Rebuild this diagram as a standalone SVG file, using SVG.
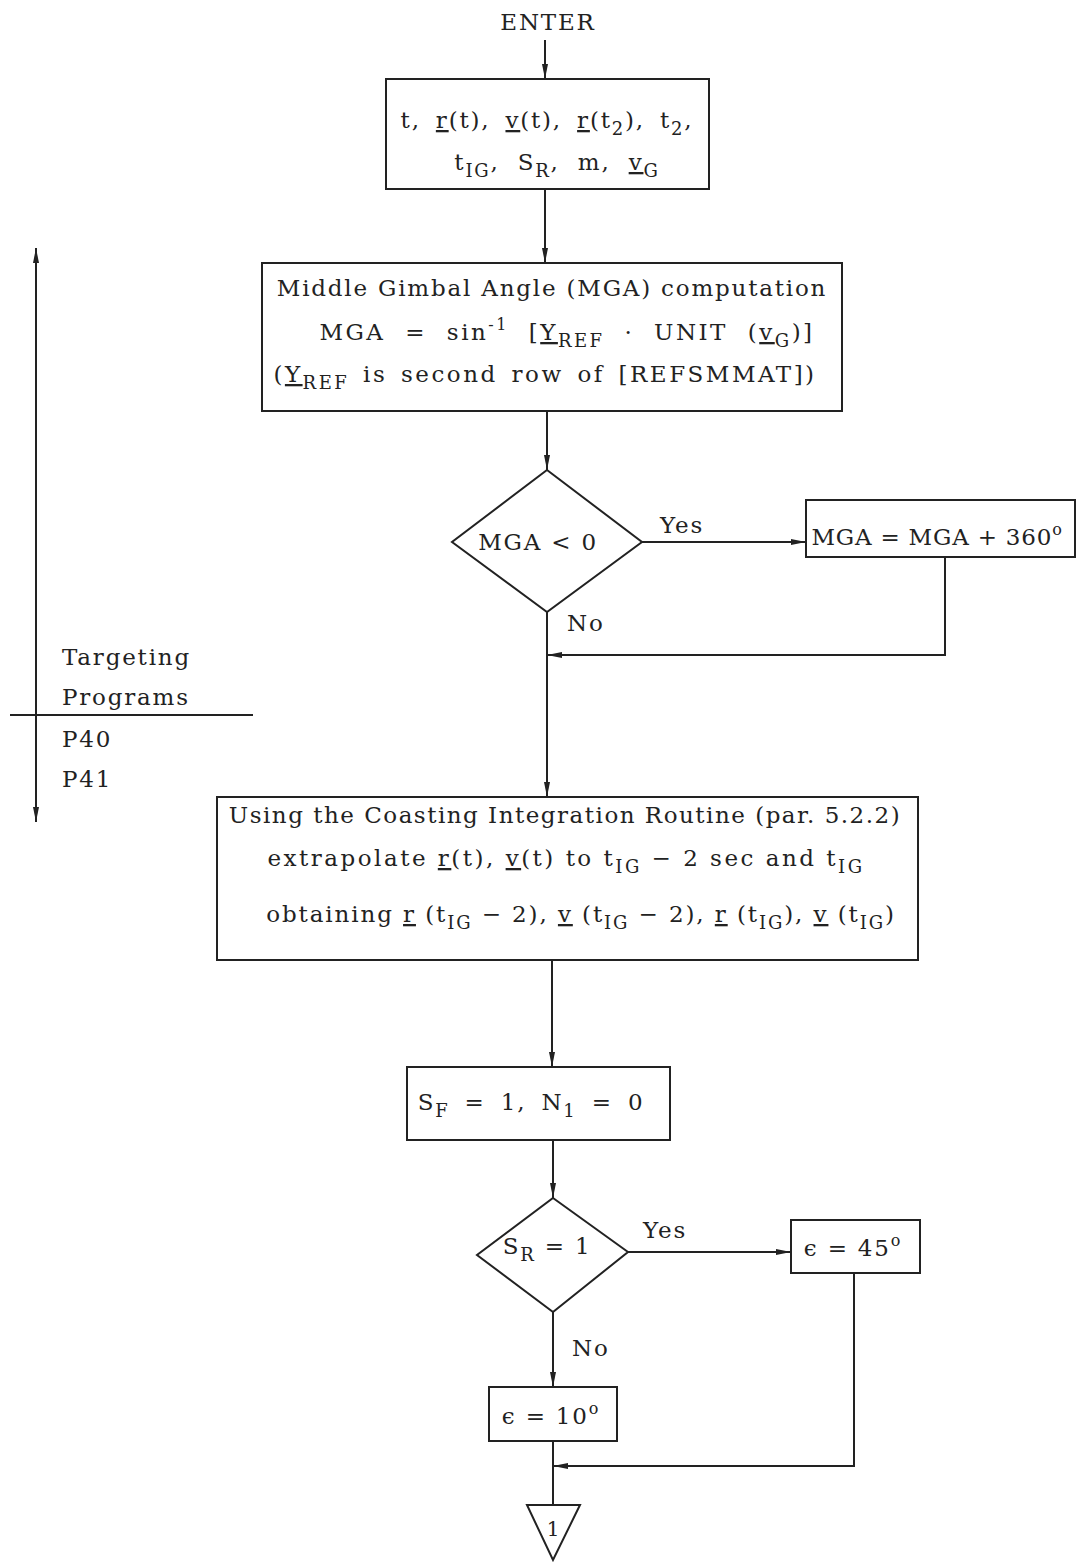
<svg xmlns="http://www.w3.org/2000/svg" width="1087" height="1564" viewBox="0 0 1087 1564">
<defs>
<marker id="ah" viewBox="0 0 15 6" refX="15" refY="3" markerWidth="15" markerHeight="6" markerUnits="userSpaceOnUse" orient="auto-start-reverse"><path d="M0,0 L15,3 L0,6 z" fill="#222"/></marker>
</defs>
<style>
text{font-family:"DejaVu Serif","Liberation Serif",serif;font-size:23px;fill:#222;letter-spacing:1.8px}
.box{fill:#fff;stroke:#222;stroke-width:2}
.ln{fill:none;stroke:#222;stroke-width:2}
.arr{marker-end:url(#ah)}
.sub{font-size:18px}
.sup{font-size:16px}
.u{text-decoration:underline}
.ws{word-spacing:6px}
</style>
<rect width="1087" height="1564" fill="#fff"/>
<g id="connectors">
<path class="ln arr" d="M545,40 V79"/>
<path class="ln arr" d="M545,189 V263"/>
<path class="ln arr" d="M547,411 V470"/>
<path class="ln arr" d="M642,542 H806"/>
<path class="ln arr" d="M945,557 V655 H547"/>
<path class="ln arr" d="M547,612 V797"/>
<path class="ln arr" d="M552,960 V1067"/>
<path class="ln arr" d="M553,1140 V1198"/>
<path class="ln arr" d="M628,1252 H791"/>
<path class="ln arr" d="M854,1273 V1466 H553"/>
<path class="ln arr" d="M553,1312 V1387"/>
<path class="ln" d="M553,1441 V1505"/>
</g>
<g id="enter"><text x="548" y="30" text-anchor="middle">ENTER</text></g>
<g id="inputs">
<rect class="box" x="386" y="79" width="323" height="110"/>
<text class="ws" x="547" y="128" text-anchor="middle">t, <tspan class="u">r</tspan>(t), <tspan class="u">v</tspan>(t), <tspan class="u">r</tspan>(t<tspan class="sub" dy="7">2</tspan><tspan dy="-7">), t</tspan><tspan class="sub" dy="7">2</tspan><tspan dy="-7">,</tspan></text>
<text x="557" y="170" text-anchor="middle" style="word-spacing:9px">t<tspan class="sub" dy="7">IG</tspan><tspan dy="-7">, S</tspan><tspan class="sub" dy="7">R</tspan><tspan dy="-7">, m, </tspan><tspan class="u">v</tspan><tspan class="sub" dy="7">G</tspan></text>
</g>
<g id="mga-comp">
<rect class="box" x="262" y="263" width="580" height="148"/>
<text x="552" y="296" text-anchor="middle">Middle Gimbal Angle (MGA) computation</text>
<text x="567" y="340" text-anchor="middle" style="letter-spacing:2.5px;word-spacing:10px">MGA = sin<tspan class="sup" dy="-10">-1</tspan><tspan dy="10"> [</tspan><tspan class="u">Y</tspan><tspan class="sub" dy="7">REF</tspan><tspan dy="-7"> · UNIT (</tspan><tspan class="u">v</tspan><tspan class="sub" dy="7">G</tspan><tspan dy="-7">)]</tspan></text>
<text x="545" y="382" text-anchor="middle" style="letter-spacing:2.5px;word-spacing:4px">(<tspan class="u">Y</tspan><tspan class="sub" dy="7">REF</tspan><tspan dy="-7"> is second row of [REFSMMAT])</tspan></text>
</g>
<g id="dec-mga">
<polygon class="box" points="547,470 642,542 547,612 452,542"/>
<text x="538" y="550" text-anchor="middle">MGA &lt; 0</text>
<text x="660" y="533">Yes</text>
<text x="567" y="631">No</text>
</g>
<g id="mga-add">
<rect class="box" x="806" y="500" width="269" height="57"/>
<text x="937" y="545" text-anchor="middle" style="letter-spacing:0.8px">MGA = MGA + 360<tspan class="sup" dy="-10">o</tspan></text>
</g>
<g id="coast">
<rect class="box" x="217" y="797" width="701" height="163"/>
<text x="565" y="823" text-anchor="middle" style="letter-spacing:1.5px">Using the Coasting Integration Routine (par. 5.2.2)</text>
<text x="566" y="866" text-anchor="middle" style="letter-spacing:2.5px">extrapolate <tspan class="u">r</tspan>(t), <tspan class="u">v</tspan>(t) to t<tspan class="sub" dy="7">IG</tspan><tspan dy="-7"> − 2 sec and t</tspan><tspan class="sub" dy="7">IG</tspan></text>
<text x="581" y="922" text-anchor="middle" style="letter-spacing:1.9px">obtaining <tspan class="u">r</tspan> (t<tspan class="sub" dy="7">IG</tspan><tspan dy="-7"> − 2), </tspan><tspan class="u">v</tspan> (t<tspan class="sub" dy="7">IG</tspan><tspan dy="-7"> − 2), </tspan><tspan class="u">r</tspan> (t<tspan class="sub" dy="7">IG</tspan><tspan dy="-7">), </tspan><tspan class="u">v</tspan> (t<tspan class="sub" dy="7">IG</tspan><tspan dy="-7">)</tspan></text>
</g>
<g id="init">
<rect class="box" x="407" y="1067" width="263" height="73"/>
<text class="ws" x="531" y="1110" text-anchor="middle">S<tspan class="sub" dy="7">F</tspan><tspan dy="-7"> = 1, N</tspan><tspan class="sub" dy="7">1</tspan><tspan dy="-7"> = 0</tspan></text>
</g>
<g id="dec-sr">
<polygon class="box" points="553,1198 628,1252 553,1312 477,1255"/>
<text x="547" y="1254" text-anchor="middle">S<tspan class="sub" dy="7">R</tspan><tspan dy="-7"> = 1</tspan></text>
<text x="643" y="1238">Yes</text>
<text x="572" y="1356">No</text>
</g>
<g id="eps45">
<rect class="box" x="791" y="1220" width="129" height="53"/>
<text x="853" y="1256" text-anchor="middle">ϵ = 45<tspan class="sup" dy="-10">o</tspan></text>
</g>
<g id="eps10">
<rect class="box" x="489" y="1387" width="128" height="54"/>
<text x="551" y="1424" text-anchor="middle">ϵ = 10<tspan class="sup" dy="-10">o</tspan></text>
</g>
<g id="conn1">
<polygon class="box" points="527,1505 580,1505 553,1560"/>
<text x="553" y="1536" text-anchor="middle" style="font-size:20px;letter-spacing:0">1</text>
</g>
<g id="targeting">
<path class="ln" d="M36,248 V822" marker-start="url(#ah)" marker-end="url(#ah)"/>
<path class="ln" d="M10,715 H253"/>
<text x="62" y="665">Targeting</text>
<text x="62" y="705">Programs</text>
<text x="62" y="747">P40</text>
<text x="62" y="787">P41</text>
</g>
</svg>
